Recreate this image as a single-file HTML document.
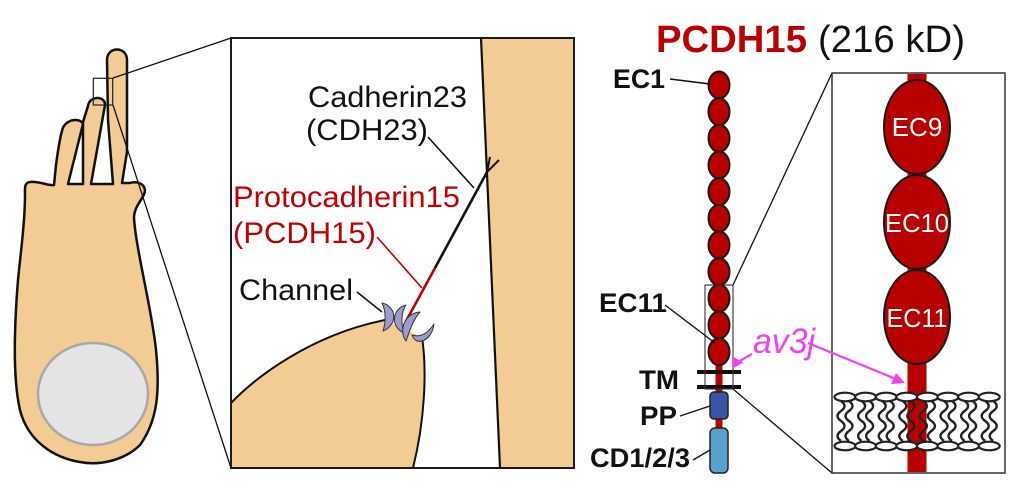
<!DOCTYPE html>
<html><head><meta charset="utf-8"><style>
html,body{margin:0;padding:0;background:#fff;}
svg{display:block;}
text{font-family:"Liberation Sans",Arial,sans-serif;}
</style></head><body>
<svg width="1017" height="497" viewBox="0 0 1017 497" xmlns="http://www.w3.org/2000/svg">
<!-- ===== Left: hair cell ===== -->
<path d="M25,195 C25,188 24,183 30,182 C40,181 48,186 54,185 L56,165 C58,150 60,138 62,131 C64,119 80,117 83,124 L68,184 L83,184 L83,122 L88,106 C89,96 105,95 105,105 L91,184 L113,184 L108,120 L107,60 C107,46 127,46 127,60 L127,152 L122,183 L130,183 C136,181 144,183 145,190 C145,198 134,205 134,218 C136,250 152,310 156,350 C160,390 158,420 140,445 C125,460 100,466 80,462 C55,458 28,442 20,410 C13,380 14,330 18,280 C21,250 25,220 25,195 Z" fill="#f3cb95" stroke="#111" stroke-width="2.5" stroke-linejoin="round"/>
<ellipse cx="93" cy="394" rx="55" ry="51" fill="#e4e4e4" stroke="#a8a8a8" stroke-width="2.5"/>
<rect x="93.3" y="78.3" width="19.4" height="26.7" fill="none" stroke="#222" stroke-width="1.2"/>
<line x1="113" y1="78" x2="231" y2="38" stroke="#111" stroke-width="1.3"/>
<line x1="113" y1="105" x2="231" y2="468" stroke="#111" stroke-width="1.3"/>

<!-- ===== Middle zoom panel ===== -->
<path d="M481,38 Q491,250 500,468 L574,468 L574,38 Z" fill="#f3cb95"/>
<path d="M481,38 Q491,250 500,468" fill="none" stroke="#111" stroke-width="2.2"/>
<path d="M231,403 C255,378 310,335 385,320 L422,337 C427,370 425,420 413,468 L231,468 Z" fill="#f3cb95"/>
<path d="M231,403 C255,378 310,335 385,320" fill="none" stroke="#111" stroke-width="2"/>
<path d="M422,337 C427,370 425,420 413,468" fill="none" stroke="#111" stroke-width="2"/>
<rect x="231" y="38" width="343" height="430" fill="none" stroke="#1a1a1a" stroke-width="2"/>

<!-- tip link -->
<line x1="487" y1="172" x2="435" y2="268" stroke="#111" stroke-width="2.6"/>
<line x1="435" y1="268" x2="405" y2="323" stroke="#c00000" stroke-width="2.6"/>
<line x1="487" y1="172" x2="490" y2="157" stroke="#111" stroke-width="2"/>
<line x1="487" y1="172" x2="499" y2="160" stroke="#111" stroke-width="2"/>

<!-- channel -->
<g fill="#9d9bcc" stroke="#333" stroke-width="1" stroke-linejoin="round">
<path d="M382,303 C396,306 399,324 383,331 C386,322 386,311 382,303 Z"/>
<path d="M406,305 C393,308 389,326 404,333 C401,324 401,312 406,305 Z"/>
<path d="M420,312 C405,313 398,330 406,341 C410,330 413,320 420,312 Z"/>
<path d="M434,324 C432,341 416,347 412,335 C421,338 428,333 434,324 Z"/>
</g>

<!-- pointers -->
<line x1="428" y1="137" x2="474" y2="188" stroke="#111" stroke-width="1.6"/>
<line x1="377" y1="237" x2="422" y2="288" stroke="#c00000" stroke-width="1.6"/>
<line x1="357" y1="292" x2="382" y2="312" stroke="#111" stroke-width="1.6"/>

<text x="308" y="107" font-size="30" fill="#111" textLength="159" lengthAdjust="spacingAndGlyphs">Cadherin23</text>
<text x="306" y="140" font-size="30" fill="#111" textLength="122" lengthAdjust="spacingAndGlyphs">(CDH23)</text>
<text x="233" y="207" font-size="30" fill="#c00000" textLength="227" lengthAdjust="spacingAndGlyphs">Protocadherin15</text>
<text x="233" y="243" font-size="30" fill="#c00000" textLength="143" lengthAdjust="spacingAndGlyphs">(PCDH15)</text>
<text x="239" y="300" font-size="30" fill="#111" textLength="114" lengthAdjust="spacingAndGlyphs">Channel</text>

<!-- ===== Right: PCDH15 domain diagram ===== -->
<text x="656" y="52" font-size="38" font-weight="bold" fill="#bb0000" textLength="151" lengthAdjust="spacingAndGlyphs">PCDH15</text>
<text x="818" y="52" font-size="38" fill="#111" textLength="147" lengthAdjust="spacingAndGlyphs">(216 kD)</text>

<rect x="715.5" y="85" width="7" height="345" fill="#b80000"/>
<g fill="#b80000" stroke="#1a1a1a" stroke-width="2">
<ellipse cx="719" cy="85" rx="10.5" ry="13.5"/>
<ellipse cx="719" cy="111.7" rx="10.5" ry="13.5"/>
<ellipse cx="719" cy="138.3" rx="10.5" ry="13.5"/>
<ellipse cx="719" cy="165" rx="10.5" ry="13.5"/>
<ellipse cx="719" cy="191.7" rx="10.5" ry="13.5"/>
<ellipse cx="719" cy="218.3" rx="10.5" ry="13.5"/>
<ellipse cx="719" cy="245" rx="10.5" ry="13.5"/>
<ellipse cx="719" cy="271.7" rx="10.5" ry="13.5"/>
<ellipse cx="719" cy="298.3" rx="10.5" ry="13.5"/>
<ellipse cx="719" cy="325" rx="10.5" ry="13.5"/>
<ellipse cx="719" cy="351.7" rx="10.5" ry="13.5"/>
</g>
<line x1="697" y1="372" x2="741" y2="372" stroke="#111" stroke-width="4"/>
<line x1="697" y1="387" x2="741" y2="387" stroke="#111" stroke-width="4"/>
<rect x="710" y="392" width="18" height="27" rx="4" fill="#3a55a5" stroke="#222" stroke-width="1.5"/>
<rect x="710" y="428" width="18" height="45" rx="5" fill="#5aa0cc" stroke="#222" stroke-width="1.5"/>
<rect x="705" y="285" width="28" height="104" fill="none" stroke="#333" stroke-width="1.1"/>

<line x1="733" y1="285" x2="832" y2="73" stroke="#111" stroke-width="1.3"/>
<line x1="733" y1="389" x2="832" y2="473" stroke="#111" stroke-width="1.3"/>

<!-- labels -->
<g font-size="27" font-weight="bold" fill="#111">
<text x="613" y="88" textLength="52" lengthAdjust="spacingAndGlyphs">EC1</text>
<text x="599" y="312" textLength="68" lengthAdjust="spacingAndGlyphs">EC11</text>
<text x="639" y="389" textLength="40" lengthAdjust="spacingAndGlyphs">TM</text>
<text x="640" y="425" textLength="37" lengthAdjust="spacingAndGlyphs">PP</text>
<text x="590" y="467" textLength="100" lengthAdjust="spacingAndGlyphs">CD1/2/3</text>
</g>
<g stroke="#111" stroke-width="1.4">
<line x1="670" y1="79" x2="710" y2="84"/>
<line x1="665" y1="305" x2="715" y2="343"/>
<line x1="680" y1="416" x2="710" y2="406"/>
<line x1="693" y1="460" x2="710" y2="450"/>
</g>

<!-- zoom box -->
<rect x="832" y="73" width="173" height="400" fill="#fff" stroke="#333" stroke-width="1.5"/>
<rect x="907.5" y="74" width="19" height="398" fill="#b90000"/>
<g fill="#b90000" stroke="#1a1a1a" stroke-width="2">
<ellipse cx="917" cy="127" rx="33" ry="47"/>
<ellipse cx="917" cy="222" rx="33" ry="47"/>
<ellipse cx="917" cy="317" rx="33" ry="47"/>
</g>
<g font-size="26" fill="#fff" text-anchor="middle">
<text x="917" y="136">EC9</text>
<text x="917" y="232" textLength="64" lengthAdjust="spacingAndGlyphs">EC10</text>
<text x="917" y="327" textLength="61" lengthAdjust="spacingAndGlyphs">EC11</text>
</g>

<!-- lipid bilayer -->
<g fill="none" stroke="#222" stroke-width="2.4">
<path d="M841,401 q7,5 0,10 t0,10 t0,10 t0,10 M849,401 q7,5 0,10 t0,10 t0,10 t0,10"/>
<path d="M861.6,401 q7,5 0,10 t0,10 t0,10 t0,10 M869.6,401 q7,5 0,10 t0,10 t0,10 t0,10"/>
<path d="M882.2,401 q7,5 0,10 t0,10 t0,10 t0,10 M890.2,401 q7,5 0,10 t0,10 t0,10 t0,10"/>
<path d="M902.8,401 q7,5 0,10 t0,10 t0,10 t0,10 M910.8,401 q7,5 0,10 t0,10 t0,10 t0,10"/>
<path d="M923.4,401 q7,5 0,10 t0,10 t0,10 t0,10 M931.4,401 q7,5 0,10 t0,10 t0,10 t0,10"/>
<path d="M944,401 q7,5 0,10 t0,10 t0,10 t0,10 M952,401 q7,5 0,10 t0,10 t0,10 t0,10"/>
<path d="M964.6,401 q7,5 0,10 t0,10 t0,10 t0,10 M972.6,401 q7,5 0,10 t0,10 t0,10 t0,10"/>
<path d="M985.2,401 q7,5 0,10 t0,10 t0,10 t0,10 M993.2,401 q7,5 0,10 t0,10 t0,10 t0,10"/>
</g>
<g fill="#fff" stroke="#222" stroke-width="2.2">
<ellipse cx="845" cy="397" rx="10.5" ry="4.3"/>
<ellipse cx="865.6" cy="397" rx="10.5" ry="4.3"/>
<ellipse cx="886.2" cy="397" rx="10.5" ry="4.3"/>
<ellipse cx="906.8" cy="397" rx="10.5" ry="4.3"/>
<ellipse cx="927.4" cy="397" rx="10.5" ry="4.3"/>
<ellipse cx="948" cy="397" rx="10.5" ry="4.3"/>
<ellipse cx="968.6" cy="397" rx="10.5" ry="4.3"/>
<ellipse cx="989.2" cy="397" rx="10.5" ry="4.3"/>
<ellipse cx="845" cy="446" rx="10.5" ry="4.3"/>
<ellipse cx="865.6" cy="446" rx="10.5" ry="4.3"/>
<ellipse cx="886.2" cy="446" rx="10.5" ry="4.3"/>
<ellipse cx="906.8" cy="446" rx="10.5" ry="4.3"/>
<ellipse cx="927.4" cy="446" rx="10.5" ry="4.3"/>
<ellipse cx="948" cy="446" rx="10.5" ry="4.3"/>
<ellipse cx="968.6" cy="446" rx="10.5" ry="4.3"/>
<ellipse cx="989.2" cy="446" rx="10.5" ry="4.3"/>
</g>

<!-- av3j arrows -->
<text x="753" y="353" font-size="35" font-style="italic" fill="#f040f0" textLength="62" lengthAdjust="spacingAndGlyphs">av3j</text>
<line x1="752" y1="354" x2="738" y2="362" stroke="#f040f0" stroke-width="2.2"/>
<polygon points="730,366 736,356 742,366" fill="#f040f0" transform="rotate(-30 736 362)"/>
<line x1="808" y1="343" x2="896" y2="379" stroke="#f040f0" stroke-width="2.2"/>
<polygon points="905,383 891,384 896,373" fill="#f040f0"/>
</svg>
</body></html>
